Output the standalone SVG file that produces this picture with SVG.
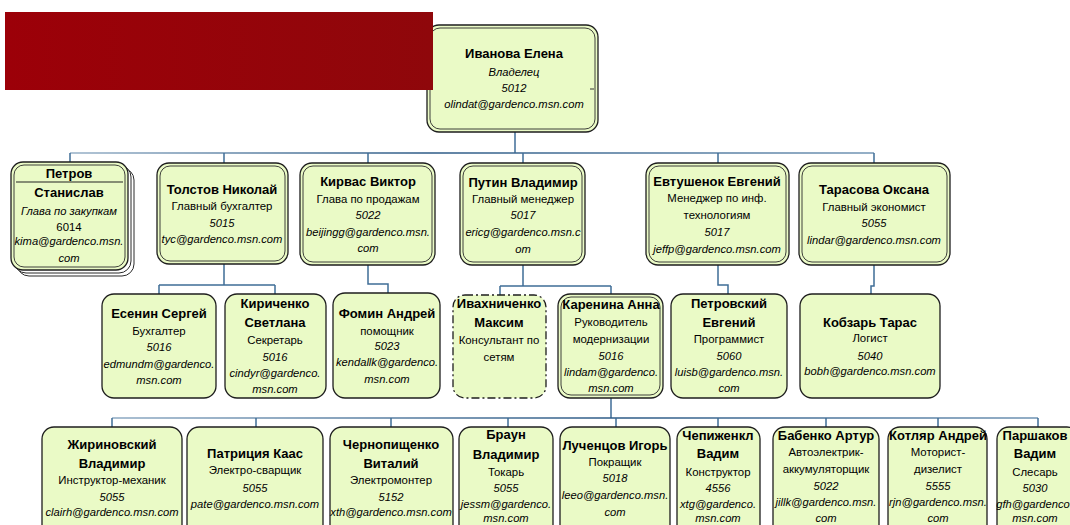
<svg xmlns="http://www.w3.org/2000/svg" width="1070" height="525" viewBox="0 0 1070 525">
<defs>
<linearGradient id="red" x1="0" y1="0" x2="1" y2="0">
<stop offset="0" stop-color="#9c0008"/><stop offset="1" stop-color="#8f070b"/>
</linearGradient>
<linearGradient id="bus1" gradientUnits="userSpaceOnUse" x1="60" y1="0" x2="880" y2="0">
<stop offset="0" stop-color="#9ab3c9"/><stop offset="0.45" stop-color="#2c5a86"/><stop offset="1" stop-color="#7396b5"/>
</linearGradient>
<linearGradient id="bus3" gradientUnits="userSpaceOnUse" x1="110" y1="0" x2="1040" y2="0">
<stop offset="0" stop-color="#8eaac3"/><stop offset="0.55" stop-color="#2c5a86"/><stop offset="1" stop-color="#6f93b3"/>
</linearGradient>
</defs>
<style>
.box{fill:#eafac6;stroke:#1e1e1e;stroke-width:1.3}
.inner{fill:none;stroke:#2a2a2a;stroke-width:0.9}
.stack{fill:#ffffff;stroke:#2a2a2a;stroke-width:1}
.dash{stroke-dasharray:8 3 2 3}
.c{fill:none;stroke:#3f6d97;stroke-width:1.5}
text{font-family:"Liberation Sans",Arial,sans-serif;text-anchor:middle;fill:#000}
.n{font-weight:bold;font-size:13px}
.p{font-size:11.4px}
.i{font-style:italic;font-size:11.2px}
</style>

<g id="connectors">
<path class="c" d="M515,132 V153"/>
<path class="c" style="stroke:url(#bus1)" d="M70,153 H874"/>
<path class="c" d="M70,153 V162 M224,153 V163 M368,153 V163 M523,153 V163 M718,153 V163 M874,153 V163"/>
<path class="c" d="M224,264 V285 M159,285 H275 M159,285 V294 M275,285 V294"/>
<path class="c" d="M368,265 V284 H388 V293"/>
<path class="c" d="M523,265 V286 M500,286 H611 M500,286 V295 M611,286 V294"/>
<path class="c" d="M718,265 V285 H728 V294"/>
<path class="c" d="M874,265 V286 H871 V294"/>
<path class="c" d="M611,398 V418"/>
<path class="c" style="stroke:url(#bus3)" d="M112,418 H1038"/>
<path class="c" d="M112,418 V427 M256,418 V427 M391,418 V427 M508,418 V427 M616,418 V427 M718,418 V427 M826,418 V427 M938,418 V427 M1038,418 V427"/>
</g>

<g id="root">
<rect class="box" x="427" y="25" width="171" height="107" rx="12"/>
<rect class="inner" x="430" y="28" width="165" height="101" rx="10"/>
<text class="n" x="514" y="58">Иванова Елена</text>
<text class="i" x="514" y="76">Владелец</text>
<text class="i" x="514" y="92">5012</text>
<text class="i" x="514" y="108">olindat@gardenco.msn.com</text>
<line x1="590" y1="89" x2="594" y2="89" stroke="#333" stroke-width="1"/>
</g>

<rect id="banner" x="5" y="12" width="428" height="78" fill="url(#red)"/>

<g id="petrov">
<rect class="stack" x="17" y="168" width="117" height="108" rx="12"/>
<rect class="stack" x="14" y="165" width="117" height="108" rx="12"/>
<rect class="box" x="11" y="162" width="117" height="108" rx="12"/>
<rect class="inner" x="14" y="165" width="111" height="102" rx="10"/>
<text class="n" x="69" y="178">Петров</text>
<line x1="16" y1="182" x2="123" y2="182" stroke="#222" stroke-width="1"/>
<text class="n" x="69" y="197">Станислав</text>
<text class="i" x="69" y="215">Глава по закупкам</text>
<text class="p" x="69" y="231">6014</text>
<text class="i" x="69" y="245">kima@gardenco.msn.</text>
<text class="i" x="69" y="262">com</text>
</g>

<g id="tolstov">
<rect class="box" x="157" y="163" width="131" height="101" rx="12"/>
<rect class="inner" x="160" y="166" width="125" height="95" rx="10"/>
<text class="n" x="222" y="194">Толстов Николай</text>
<text class="p" x="222" y="210">Главный бухгалтер</text>
<text class="i" x="222" y="227">5015</text>
<text class="i" x="222" y="243">tyc@gardenco.msn.com</text>
</g>

<g id="kirvas">
<rect class="box" x="300" y="163" width="135" height="102" rx="12"/>
<rect class="inner" x="303" y="166" width="129" height="96" rx="10"/>
<text class="n" x="368" y="186">Кирвас Виктор</text>
<text class="p" x="368" y="203">Глава по продажам</text>
<text class="i" x="368" y="219">5022</text>
<text class="i" x="368" y="236">beijingg@gardenco.msn.</text>
<text class="i" x="368" y="252">com</text>
</g>

<g id="putin">
<rect class="box" x="460" y="163" width="125" height="102" rx="12"/>
<rect class="inner" x="463" y="166" width="119" height="96" rx="10"/>
<text class="n" x="523" y="187">Путин Владимир</text>
<text class="p" x="523" y="203">Главный менеджер</text>
<text class="i" x="523" y="219">5017</text>
<text class="i" x="523" y="236">ericg@gardenco.msn.c</text>
<text class="i" x="523" y="253">om</text>
</g>

<g id="evtushenok">
<rect class="box" x="646" y="163" width="143" height="102" rx="12"/>
<rect class="inner" x="649" y="166" width="137" height="96" rx="10"/>
<text class="n" x="717" y="186">Евтушенок Евгений</text>
<text class="p" x="717" y="202">Менеджер по инф.</text>
<text class="p" x="717" y="219">технологиям</text>
<text class="i" x="717" y="236">5017</text>
<text class="i" x="717" y="253">jeffp@gardenco.msn.com</text>
</g>

<g id="tarasova">
<rect class="box" x="799" y="163" width="151" height="102" rx="12"/>
<rect class="inner" x="802" y="166" width="145" height="96" rx="10"/>
<text class="n" x="874" y="194">Тарасова Оксана</text>
<text class="p" x="874" y="211">Главный экономист</text>
<text class="i" x="874" y="227">5055</text>
<text class="i" x="874" y="244">lindar@gardenco.msn.com</text>
</g>

<g id="esenin">
<rect class="box" x="102" y="294" width="114" height="104" rx="12"/>
<text class="n" x="159" y="318">Есенин Сергей</text>
<text class="p" x="159" y="335">Бухгалтер</text>
<text class="i" x="159" y="351">5016</text>
<text class="i" x="159" y="368">edmundm@gardenco.</text>
<text class="i" x="159" y="384">msn.com</text>
</g>

<g id="kirichenko">
<rect class="box" x="225" y="294" width="101" height="104" rx="12"/>
<text class="n" x="275" y="308">Кириченко</text>
<text class="n" x="275" y="327">Светлана</text>
<text class="p" x="275" y="344">Секретарь</text>
<text class="i" x="275" y="361">5016</text>
<text class="i" x="275" y="377">cindyr@gardenco.</text>
<text class="i" x="275" y="393">msn.com</text>
</g>

<g id="fomin">
<rect class="box" x="333" y="293" width="107" height="105" rx="12"/>
<text class="n" x="387" y="318">Фомин Андрей</text>
<text class="p" x="387" y="335">помощник</text>
<text class="i" x="387" y="350">5023</text>
<text class="i" x="387" y="366">kendallk@gardenco.</text>
<text class="i" x="387" y="383">msn.com</text>
</g>

<g id="ivakhnichenko">
<rect class="box dash" x="453" y="295" width="93" height="103" rx="12"/>
<text class="n" x="499" y="308">Ивахниченко</text>
<text class="n" x="499" y="327">Максим</text>
<text class="p" x="499" y="344">Консультант по</text>
<text class="p" x="499" y="361">сетям</text>
</g>

<g id="karenina">
<rect class="box" x="558" y="294" width="105" height="104" rx="12"/>
<rect class="inner" x="561" y="297" width="99" height="98" rx="10"/>
<text class="n" x="611" y="309">Каренина Анна</text>
<text class="p" x="611" y="326">Руководитель</text>
<text class="p" x="611" y="343">модернизации</text>
<text class="i" x="611" y="360">5016</text>
<text class="i" x="611" y="376">lindam@gardenco.</text>
<text class="i" x="611" y="392">msn.com</text>
</g>

<g id="petrovsky">
<rect class="box" x="671" y="294" width="116" height="104" rx="12"/>
<text class="n" x="729" y="308">Петровский</text>
<text class="n" x="729" y="327">Евгений</text>
<text class="p" x="729" y="343">Программист</text>
<text class="i" x="729" y="360">5060</text>
<text class="i" x="729" y="376">luisb@gardenco.msn.</text>
<text class="i" x="729" y="392">com</text>
</g>

<g id="kobzar">
<rect class="box" x="800" y="294" width="140" height="104" rx="12"/>
<text class="n" x="870" y="327">Кобзарь Тарас</text>
<text class="p" x="870" y="342">Логист</text>
<text class="i" x="870" y="360">5040</text>
<text class="i" x="870" y="375">bobh@gardenco.msn.com</text>
</g>

<g id="zhirinovsky">
<rect class="box" x="42" y="427" width="140" height="110" rx="12"/>
<text class="n" x="112" y="449">Жириновский</text>
<text class="n" x="112" y="468">Владимир</text>
<text class="p" x="112" y="484">Инструктор-механик</text>
<text class="i" x="112" y="501">5055</text>
<text class="i" x="112" y="516">clairh@gardenco.msn.com</text>
</g>

<g id="patricia">
<rect class="box" x="187" y="427" width="136" height="110" rx="12"/>
<text class="n" x="255" y="458">Патриция Каас</text>
<text class="p" x="255" y="474">Электро-сварщик</text>
<text class="i" x="255" y="492">5055</text>
<text class="i" x="255" y="508">pate@gardenco.msn.com</text>
</g>

<g id="chernopishchenko">
<rect class="box" x="330" y="427" width="123" height="110" rx="12"/>
<text class="n" x="391" y="449">Чернопищенко</text>
<text class="n" x="391" y="468">Виталий</text>
<text class="p" x="391" y="484">Электромонтер</text>
<text class="i" x="391" y="501">5152</text>
<text class="i" x="391" y="516">xth@gardenco.msn.com</text>
</g>

<g id="braun">
<rect class="box" x="459" y="427" width="94" height="110" rx="12"/>
<text class="n" x="506" y="439">Браун</text>
<text class="n" x="506" y="459">Владимир</text>
<text class="p" x="506" y="476">Токарь</text>
<text class="i" x="506" y="492">5055</text>
<text class="i" x="506" y="508">jessm@gardenco.</text>
<text class="i" x="506" y="522">msn.com</text>
</g>

<g id="luchentsov">
<rect class="box" x="560" y="427" width="110" height="110" rx="12"/>
<text class="n" x="615" y="450">Лученцов Игорь</text>
<text class="p" x="615" y="466">Покращик</text>
<text class="i" x="615" y="482">5018</text>
<text class="i" x="615" y="499">leeo@gardenco.msn.</text>
<text class="i" x="615" y="516">com</text>
</g>

<g id="chepizhenkl">
<rect class="box" x="677" y="427" width="83" height="110" rx="12"/>
<text class="n" x="718" y="440">Чепиженкл</text>
<text class="n" x="718" y="458">Вадим</text>
<text class="p" x="718" y="476">Конструктор</text>
<text class="i" x="718" y="492">4556</text>
<text class="i" x="718" y="508">xtg@gardenco.</text>
<text class="i" x="718" y="522">msn.com</text>
</g>

<g id="babenko">
<rect class="box" x="773" y="427" width="106" height="110" rx="12"/>
<text class="n" x="826" y="440">Бабенко Артур</text>
<text class="p" x="826" y="456">Автоэлектрик-</text>
<text class="p" x="826" y="473">аккумуляторщик</text>
<text class="i" x="826" y="490">5022</text>
<text class="i" x="826" y="506">jillk@gardenco.msn.</text>
<text class="i" x="826" y="522">com</text>
</g>

<g id="kotlyar">
<rect class="box" x="888" y="427" width="99" height="110" rx="12"/>
<text class="n" x="938" y="440">Котляр Андрей</text>
<text class="p" x="938" y="456">Моторист-</text>
<text class="p" x="938" y="473">дизелист</text>
<text class="i" x="938" y="490">5555</text>
<text class="i" x="938" y="506">rjn@gardenco.msn.</text>
<text class="i" x="938" y="522">com</text>
</g>

<g id="parshakov">
<rect class="box" x="997" y="427" width="82" height="110" rx="12"/>
<text class="n" x="1035" y="440">Паршаков</text>
<text class="n" x="1035" y="458">Вадим</text>
<text class="p" x="1035" y="476">Слесарь</text>
<text class="i" x="1035" y="492">5030</text>
<text class="i" x="1033" y="508">gfh@gardenco</text>
<text class="i" x="1035" y="522">msn.com</text>
</g>
</svg>
